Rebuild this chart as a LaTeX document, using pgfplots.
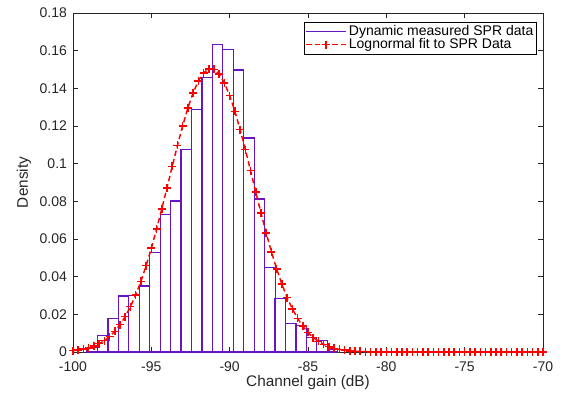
\documentclass[border=0pt]{standalone}
\usepackage{fontspec}
\setmainfont{Liberation Sans}
\usepackage{pgfplots}
\pgfplotsset{compat=1.18}
\pgfplotsset{myleg/.style={legend image code/.code={\draw[mark repeat=2,mark phase=2,##1] plot coordinates {(0pt,0pt) (15pt,0pt) (30pt,0pt)};}}}
\definecolor{histcol}{RGB}{102,20,196}
\definecolor{axcol}{RGB}{38,38,38}
\begin{document}
\begin{tikzpicture}
\useasboundingbox (-54.75pt,-33.75pt) rectangle (370.5pt,264pt);
\begin{axis}[
  scale only axis, width=352.5pt, height=254.25pt,
  xmin=-100, xmax=-70, ymin=0, ymax=0.18,
  xtick={-100,-95,-90,-85,-80,-75,-70},
  xticklabels={-100,-95,-90,-85,-80,-75,-70},
  ytick={0,0.02,0.04,0.06,0.08,0.1,0.12,0.14,0.16,0.18},
  yticklabels={0,0.02,0.04,0.06,0.08,0.1,0.12,0.14,0.16,0.18},
  scaled y ticks=false, scaled x ticks=false,
  tick align=inside, major tick length=4pt,
  axis line style={axcol, line width=0.5pt},
  every tick/.style={axcol, line width=0.5pt},
  every tick label/.append style={font=\fontsize{10.5}{12}\selectfont, text=axcol},
  xticklabel style={yshift=-4pt},
  yticklabel style={xshift=-1pt},
  xlabel={Channel gain (dB)}, ylabel={Density},
  label style={font=\fontsize{11.5}{13}\selectfont, text=axcol},
  xlabel style={at={([yshift=-23pt]axis description cs:0.5,0)}, anchor=center},
  ylabel style={at={([xshift=-36.75pt]axis description cs:0,0.5)}, anchor=center},
  clip=false,
  legend cell align=left,
  legend style={at={(1,1)}, anchor=north east, xshift=-4.5pt, yshift=-6.75pt,
    font=\fontsize{10.5}{12}\selectfont, draw=black, line width=0.5pt, inner sep=1pt,
    row sep=-2.5pt, nodes={inner sep=1.5pt, text=black}},
]
\addplot[ybar, bar width=0.6667, bar shift=0pt, draw=histcol, fill=none, line width=0.9pt, forget plot] coordinates {
(-98.767,0.0025) (-98.100,0.0089) (-97.433,0.0179) (-96.767,0.0297) (-96.100,0.0302)
(-95.433,0.0350) (-94.767,0.0529) (-94.100,0.0728) (-93.433,0.0802) (-92.767,0.1077)
(-92.100,0.1286) (-91.433,0.1459) (-90.767,0.1634) (-90.100,0.1606) (-89.433,0.1497)
(-88.767,0.1136) (-88.100,0.0812) (-87.433,0.0449) (-86.767,0.0284) (-86.100,0.0150)
(-85.433,0.0142) (-84.767,0.0078) (-84.100,0.0060) (-83.433,0.0016)
};
\addlegendimage{histcol, line width=0.9pt, myleg}
\addlegendentry{Dynamic measured SPR data}
\addplot[red, line width=1.1pt, dash pattern=on 4pt off 2.5pt, mark=+, mark size=3pt, mark options={solid, line width=1.1pt}, myleg] coordinates {
(-100.000,0.0007) (-99.667,0.0010) (-99.333,0.0015) (-99.000,0.0022) (-98.667,0.0031)
(-98.333,0.0044) (-98.000,0.0060) (-97.667,0.0082) (-97.333,0.0110) (-97.000,0.0145)
(-96.667,0.0188) (-96.333,0.0241) (-96.000,0.0303) (-95.667,0.0375) (-95.333,0.0458)
(-95.000,0.0551) (-94.667,0.0652) (-94.333,0.0760) (-94.000,0.0872) (-93.667,0.0985)
(-93.333,0.1097) (-93.000,0.1201) (-92.667,0.1296) (-92.333,0.1376) (-92.000,0.1439)
(-91.667,0.1482) (-91.333,0.1503) (-91.000,0.1501) (-90.667,0.1476) (-90.333,0.1428)
(-90.000,0.1361) (-89.667,0.1278) (-89.333,0.1181) (-89.000,0.1075) (-88.667,0.0963)
(-88.333,0.0849) (-88.000,0.0738) (-87.667,0.0631) (-87.333,0.0532) (-87.000,0.0441)
(-86.667,0.0360) (-86.333,0.0289) (-86.000,0.0229) (-85.667,0.0179) (-85.333,0.0137)
(-85.000,0.0104) (-84.667,0.0077) (-84.333,0.0057) (-84.000,0.0041) (-83.667,0.0029)
(-83.333,0.0020) (-83.000,0.0014) (-82.667,0.0010) (-82.333,0.0006) (-82.000,0.0004)
(-81.667,0.0003) (-81.333,0.0002) (-81.000,0.0001) (-80.667,0.0001) (-80.333,0.0000)
(-80.000,0.0000) (-79.667,0.0000) (-79.333,0.0000) (-79.000,0.0000) (-78.667,0.0000)
(-78.333,0.0000) (-78.000,0.0000) (-77.667,0.0000) (-77.333,0.0000) (-77.000,0.0000)
(-76.667,0.0000) (-76.333,0.0000) (-76.000,0.0000) (-75.667,0.0000) (-75.333,0.0000)
(-75.000,0.0000) (-74.667,0.0000) (-74.333,0.0000) (-74.000,0.0000) (-73.667,0.0000)
(-73.333,0.0000) (-73.000,0.0000) (-72.667,0.0000) (-72.333,0.0000) (-72.000,0.0000)
(-71.667,0.0000) (-71.333,0.0000) (-71.000,0.0000) (-70.667,0.0000) (-70.333,0.0000)
(-70.000,0.0000)
};
\addlegendentry{Lognormal fit to SPR Data}
\end{axis}
\end{tikzpicture}
\end{document}
